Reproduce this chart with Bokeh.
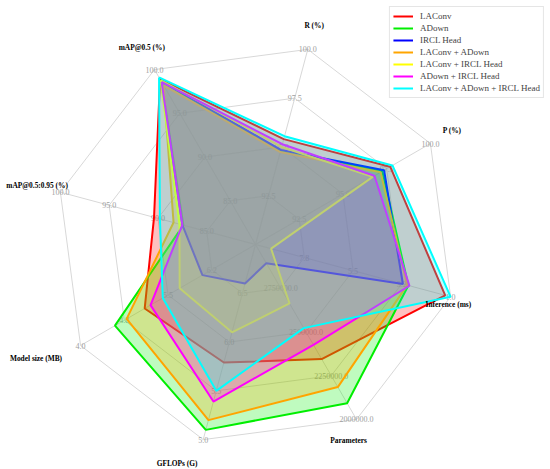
import math
from bokeh.plotting import figure
from bokeh.models import Range1d, Legend, LegendItem
from bokeh.core.properties import value
from bokeh.embed import file_html
from bokeh.resources import INLINE

# ---------------- data ----------------
axis_names = ["mAP@0.5 (%)", "R (%)", "P (%)", "Inference (ms)", "Parameters",
              "GFLOPs (G)", "Model size (MB)", "mAP@0.5:0.95 (%)"]
axis_center = [80.0, 90.0, 90.0, 10.0, 3000000.0, 7.0, 7.0, 80.0]
axis_outer = [100.0, 100.0, 100.0, 1.0, 2000000.0, 5.0, 4.0, 100.0]
tick_labels = [
    ["85.0", "90.0", "95.0", "100.0"],
    ["92.5", "95.0", "97.5", "100.0"],
    ["92.5", "95.0", "97.5", "100.0"],
    ["7.8", "5.5", "3.2", "1.0"],
    ["2750000.0", "2500000.0", "2250000.0", "2000000.0"],
    ["6.5", "6.0", "5.5", "5.0"],
    ["6.2", "5.5", "4.8", "4.0"],
    ["85.0", "90.0", "95.0", "100.0"],
]

series_names = ["LAConv", "ADown", "IRCL Head", "LAConv + ADown",
                "LAConv + IRCL Head", "ADown + IRCL Head", "LAConv + ADown + IRCL Head"]
laconv = [98.9, 95.40, 97.70, 1.25, 2345000, 5.79, 5.10, 90.4]
adown = [98.6, 94.80, 97.25, 2.95, 2093000, 5.10, 4.59, 87.4]
ircl = [98.7, 94.85, 97.35, 3.20, 2893000, 6.60, 6.09, 87.5]
laconv_adown = [98.2, 94.74, 97.15, 3.00, 2185000, 5.20, 4.79, 88.4]
laconv_ircl = [98.8, 95.00, 96.70, 9.28, 2663000, 6.10, 5.70, 87.8]
adown_ircl = [98.6, 95.14, 96.80, 2.90, 2426000, 5.39, 5.20, 87.5]
all_three = [99.1, 95.55, 97.83, 1.00, 2522000, 5.50, 5.41, 89.8]
series_values = [laconv, adown, ircl, laconv_adown, laconv_ircl, adown_ircl, all_three]

# ---------------- style / layout ----------------
colors = ["#ff0000", "#00ee00", "#0000ff", "#ffa500", "#ffff00", "#ff00ff", "#00ffff"]
W, H = 550, 469
CX, CY, RAD = 255.0, 244.0, 202.0     # centre and radius in pixels
label_r = [1.126, 1.122, 1.125, 1.0, 1.074, 1.152, 1.224, 1.12]
label_ang = [120.0, 75.0, 30.1, -17.3, -64.6, -109.7, -152.6, 164.9]
SERIF = "Liberation Serif"

n = len(axis_names)
angles = [math.radians(120 - 45 * i) for i in range(n)]


def frac(i, v):
    return (v - axis_center[i]) / (axis_outer[i] - axis_center[i])


p = figure(width=W, height=H, output_backend="svg", toolbar_location=None,
           x_range=Range1d(-CX / RAD, (W - CX) / RAD),
           y_range=Range1d(-(H - CY) / RAD, CY / RAD),
           min_border=0, outline_line_color=None)
p.axis.visible = False
p.grid.visible = False
p.background_fill_color = "white"

grid_col = "#d8d8d8"
for k in range(1, 5):
    r = k / 4
    xs = [r * math.cos(a) for a in angles] + [r * math.cos(angles[0])]
    ys = [r * math.sin(a) for a in angles] + [r * math.sin(angles[0])]
    p.line(xs, ys, line_color=grid_col, line_width=1)
for a in angles:
    p.line([0, math.cos(a)], [0, math.sin(a)], line_color=grid_col, line_width=1)

tx, ty, tt = [], [], []
for i, a in enumerate(angles):
    for k in range(4):
        r = (k + 1) / 4
        tx.append(r * math.cos(a))
        ty.append(r * math.sin(a))
        tt.append(tick_labels[i][k])
p.text(x=tx, y=ty, text=tt, text_font=value(SERIF), text_font_size="8px",
       text_color="#a0a0a0", text_align="center", text_baseline="middle")

items = []
for name, vals, c in zip(series_names, series_values, colors):
    fr = [frac(i, v) for i, v in enumerate(vals)]
    xs = [f * math.cos(a) for f, a in zip(fr, angles)]
    ys = [f * math.sin(a) for f, a in zip(fr, angles)]
    ln = p.line(xs + [xs[0]], ys + [ys[0]], line_color=c, line_width=2)
    p.patch(xs, ys, fill_color=c, fill_alpha=0.25, line_color=None)
    items.append(LegendItem(label=name, renderers=[ln]))

lx = [r * math.cos(math.radians(a)) for r, a in zip(label_r, label_ang)]
ly = [r * math.sin(math.radians(a)) for r, a in zip(label_r, label_ang)]
p.text(x=lx, y=ly, text=axis_names, text_font=value(SERIF), text_font_size="7.4px",
       text_font_style="bold", text_color="black", text_align="center",
       text_baseline="middle")

legend = Legend(items=items, location="top_right")
legend.margin = 6
legend.padding = 3
legend.spacing = 0
legend.label_height = 12
legend.glyph_height = 12
legend.glyph_width = 20
legend.label_standoff = 7
legend.label_text_font = SERIF
legend.label_text_font_size = "9px"
legend.border_line_color = "#cccccc"
legend.background_fill_alpha = 0.9
p.add_layout(legend)

open("out.html", "w").write(file_html(p, INLINE))
